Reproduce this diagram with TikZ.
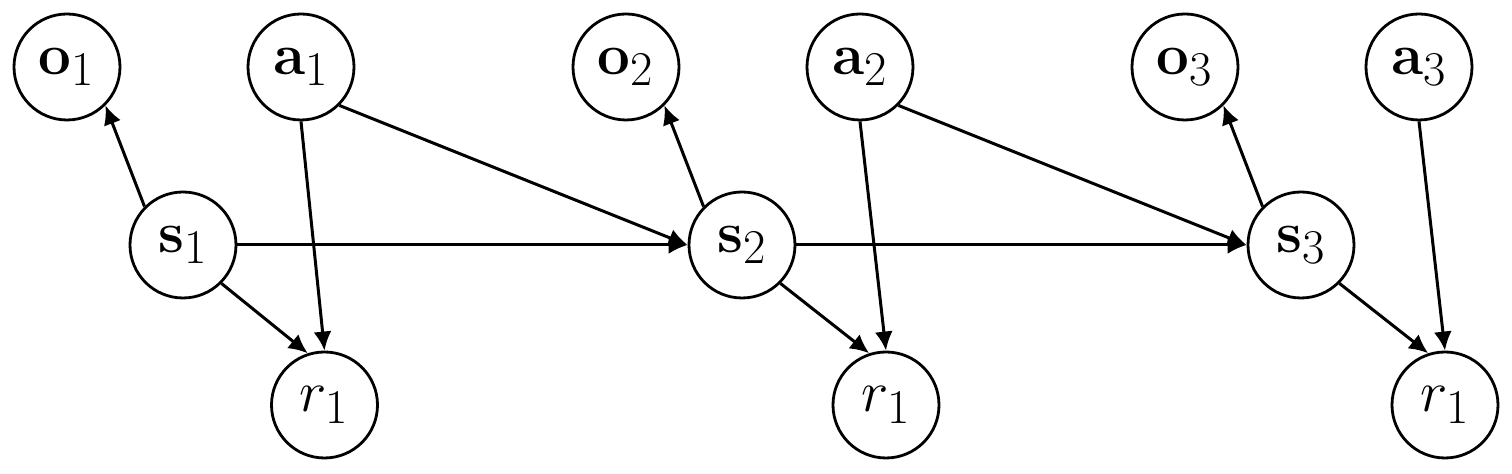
\documentclass[tikz,border=0pt]{standalone}
\usepackage{graphicx}
\usetikzlibrary{arrows.meta}
\newcommand\varlbl[1]{\scalebox{1.17}{$#1$}}
\begin{document}
\begin{tikzpicture}[x=1pt,y=1pt,
  var/.style={circle,draw,line width=1.4pt,minimum size=53pt,inner sep=0pt,
    font=\Huge},
  edge/.style={line width=1.5pt,-{Latex[length=9.5pt,width=9pt]}}]
\useasboundingbox (0,0) rectangle (756,237);
\node[var] (o1) at (33.5,203.5) {\varlbl{\mathbf{o}_1}};
\node[var] (a1) at (150.5,203.5) {\varlbl{\mathbf{a}_1}};
\node[var] (o2) at (313,203.5) {\varlbl{\mathbf{o}_2}};
\node[var] (a2) at (430,203.5) {\varlbl{\mathbf{a}_2}};
\node[var] (o3) at (592.5,203.5) {\varlbl{\mathbf{o}_3}};
\node[var] (a3) at (709.5,203.5) {\varlbl{\mathbf{a}_3}};
\node[var] (s1) at (91.5,114.5) {\varlbl{\mathbf{s}_1}};
\node[var] (s2) at (371,114.5) {\varlbl{\mathbf{s}_2}};
\node[var] (s3) at (650.5,114.5) {\varlbl{\mathbf{s}_3}};
\node[var] (r1) at (162.25,34.5) {\varlbl{r_1}};
\node[var] (r2) at (443,34.5) {\varlbl{r_1}};
\node[var] (r3) at (722.5,34.5) {\varlbl{r_1}};
\draw[edge] (s1.north west) -- (o1.south east);
\draw[edge] (s2.north west) -- (o2.south east);
\draw[edge] (s3.north west) -- (o3.south east);
\draw[edge] (s1.east) -- (s2.west);
\draw[edge] (s2.east) -- (s3.west);
\draw[edge] (a1.south east) -- (s2.west);
\draw[edge] (a2.south east) -- (s3.west);
\draw[edge] (a1.south) -- (r1.north);
\draw[edge] (a2.south) -- (r2.north);
\draw[edge] (a3.south) -- (r3.north);
\draw[edge] (s1.south east) -- (r1.108);
\draw[edge] (s2.south east) -- (r2.108);
\draw[edge] (s3.south east) -- (r3.108);
\end{tikzpicture}
\end{document}
